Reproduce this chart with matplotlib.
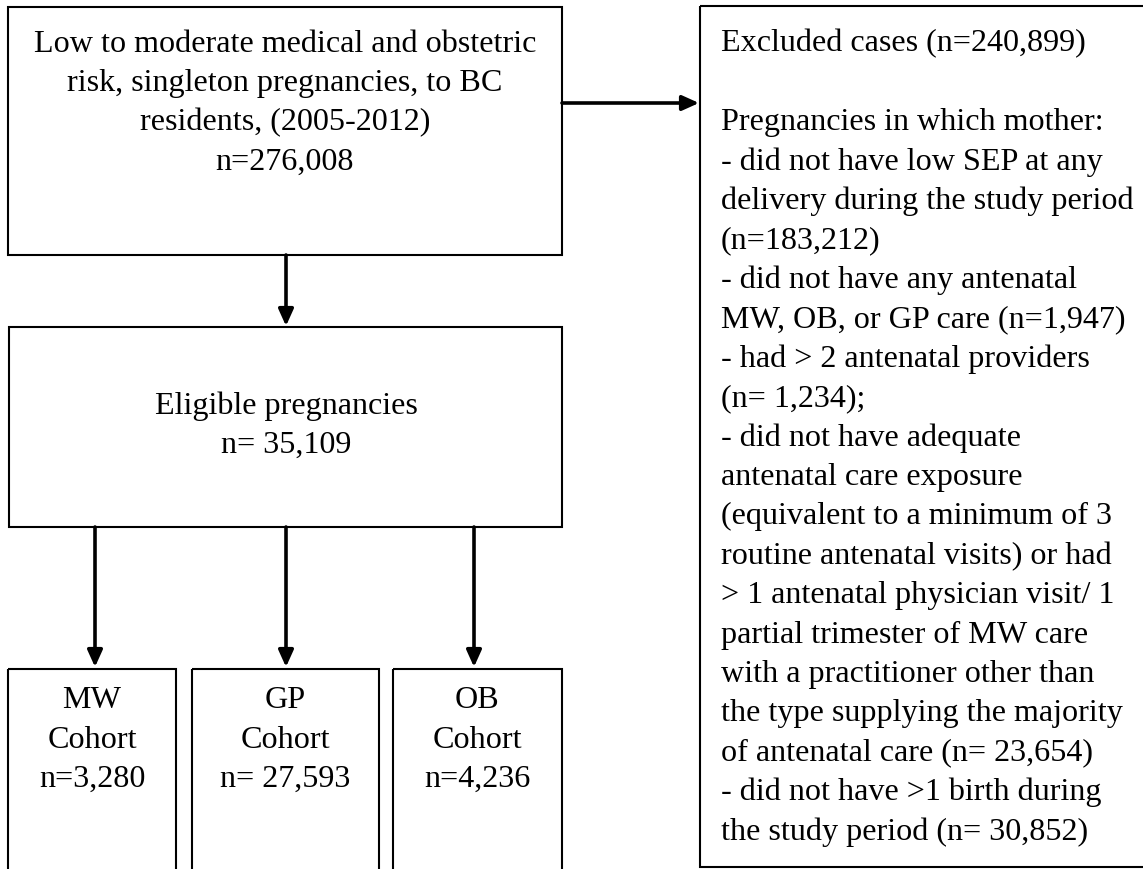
import matplotlib.pyplot as plt
from matplotlib.patches import Rectangle

plt.rcParams['font.family'] = ['Liberation Serif', 'DejaVu Serif']

# box texts
top_lines = ['Low to moderate medical and obstetric',
             'risk, singleton pregnancies, to BC',
             'residents, (2005-2012)',
             'n=276,008']
eligible_lines = ['Eligible pregnancies', 'n= 35,109']
cohort_names = ['MW', 'GP', 'OB']
cohort_n = ['n=3,280', 'n= 27,593', 'n=4,236']
excluded_lines = ['Excluded cases (n=240,899)',
                  '',
                  'Pregnancies in which mother:',
                  '- did not have low SEP at any',
                  'delivery during the study period',
                  '(n=183,212)',
                  '- did not have any antenatal',
                  'MW, OB, or GP care (n=1,947)',
                  '- had > 2 antenatal providers',
                  '(n= 1,234);',
                  '- did not have adequate',
                  'antenatal care exposure',
                  '(equivalent to a minimum of 3',
                  'routine antenatal visits) or had',
                  '> 1 antenatal physician visit/ 1',
                  'partial trimester of MW care',
                  'with a practitioner other than',
                  'the type supplying the majority',
                  'of antenatal care (n= 23,654)',
                  '- did not have >1 birth during',
                  'the study period (n= 30,852)']

W, H = 1143, 869
fig = plt.figure(figsize=(W / 100, H / 100), dpi=100)
ax = fig.add_axes([0, 0, 1, 1])
ax.set_xlim(0, W)
ax.set_ylim(H, 0)
ax.axis('off')

FS = 23.1
LS = 39.4  # line step in px


def box(x0, y0, x1, y1):
    ax.add_patch(Rectangle((x0, y0), x1 - x0, y1 - y0, fill=False,
                           edgecolor='black', linewidth=1.5))


def lines(x, y, txt, ha='center'):
    for i, t in enumerate(txt):
        ax.text(x, y + i * LS, t, fontsize=FS, ha=ha, va='center')


def arrow(x0, y0, x1, y1):
    ax.annotate('', xy=(x1, y1), xytext=(x0, y0),
                arrowprops=dict(arrowstyle='-|>,head_length=1.0,head_width=0.45',
                                color='black', linewidth=2.6,
                                shrinkA=0, shrinkB=0))


# top box
box(8, 7, 562, 255)
lines(285, 44, top_lines)

# excluded box (right side runs off the page)
box(700, 6, 1160, 867)
lines(721, 44, excluded_lines, ha='left')

# eligible box
box(9, 327, 562, 527)
lines(286, 406, eligible_lines)

# cohort boxes
cohort_x = [(8, 176), (192, 379), (393, 562)]
arrow_x = [95, 286, 474]
for (x0, x1), ax_x, name, n in zip(cohort_x, arrow_x, cohort_names, cohort_n):
    box(x0, 669, x1, 880)
    lines((x0 + x1) / 2, 701, [name, 'Cohort', n])
    arrow(ax_x, 527, ax_x, 667)

arrow(286, 255, 286, 326)
arrow(562, 103, 699, 103)

fig.savefig('out.png', dpi=100)
